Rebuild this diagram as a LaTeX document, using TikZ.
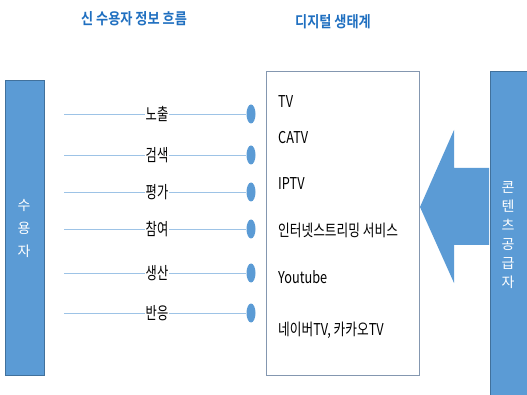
\documentclass[tikz,border=0pt]{standalone}
\usepackage{fontspec}
\setmainfont{Noto Sans CJK KR}
\newfontfamily\narrowfont[FakeStretch=0.78]{Noto Sans CJK KR}
\newfontfamily\labelfont[FakeStretch=0.72]{Noto Sans CJK KR}
\newfontfamily\titlefont[FakeStretch=0.85]{Noto Sans CJK KR Bold}
\definecolor{barblue}{HTML}{5B9BD5}
\definecolor{barborder}{HTML}{41719C}
\definecolor{titleblue}{HTML}{1F6FC0}
\definecolor{linecol}{HTML}{9DC3E6}
\definecolor{boxgray}{HTML}{8497B0}
\usetikzlibrary{shapes.geometric}
\tikzset{
  bar/.style={fill=barblue, draw=barborder, line width=0.6pt},
  ttl/.style={text=titleblue, font=\titlefont\fontsize{15.5}{18}\selectfont},
  lbl/.style={font=\labelfont\fontsize{17}{19}\selectfont, inner sep=1pt},
  item/.style={font=\narrowfont\fontsize{16.3}{18}\selectfont, anchor=west, inner sep=0pt},
  conn/.style={draw=linecol, line width=0.9pt},
  dot/.style={ellipse, fill=barblue, minimum width=9pt, minimum height=19pt, inner sep=0pt},
  vtext/.style={text=white, font=\fontsize{14}{16}\selectfont, align=center},
}
\begin{document}
\begin{tikzpicture}[x=1pt,y=-1pt]
\useasboundingbox (0,0) rectangle (527,395);
% titles
\node[ttl] (t1) at (134,19) {신 수용자 정보 흐름};
\node[ttl] (t2) at (333,22) {디지털 생태계};
% left bar
\draw[bar] (5,80) rectangle (44,375);
\node[vtext] (user) at (24,228) {수\\[7pt]용\\[7pt]자};
% box
\draw[draw=boxgray, line width=0.8pt] (266,71) rectangle (419,375);
% right bar
\draw[bar] (490,71) rectangle (530,400);
\node[vtext] (prov) at (508,235) {콘\\[3pt]텐\\[3pt]츠\\[3pt]공\\[3pt]급\\[3pt]자};
% big arrow
\fill[barblue] (420,207) -- (454,130) -- (454,168) -- (489,168) -- (489,245) -- (454,245) -- (454,283) -- cycle;
% rows
\foreach \n/\txt/\y in {1/노출/114, 2/검색/155, 3/평가/192, 4/참여/229, 5/생산/273, 6/반응/313}{
  \coordinate (s\n) at (64,\y);
  \node[lbl] (l\n) at (157,\y) {\txt};
  \node[dot] (d\n) at (251,\y) {};
  \draw[conn] (s\n) -- (l\n.west);
  \draw[conn] (l\n.east) -- (d\n.west);
}
% box items
\node[item] (i1) at (278,102) {TV};
\node[item] (i2) at (278,138) {CATV};
\node[item] (i3) at (278,184) {IPTV};
\node[item] (i4) at (278,230) {인터넷스트리밍 서비스};
\node[item] (i5) at (278,277) {Youtube};
\node[item] (i6) at (278,330) {네이버TV, 카카오TV};
\end{tikzpicture}
\end{document}
